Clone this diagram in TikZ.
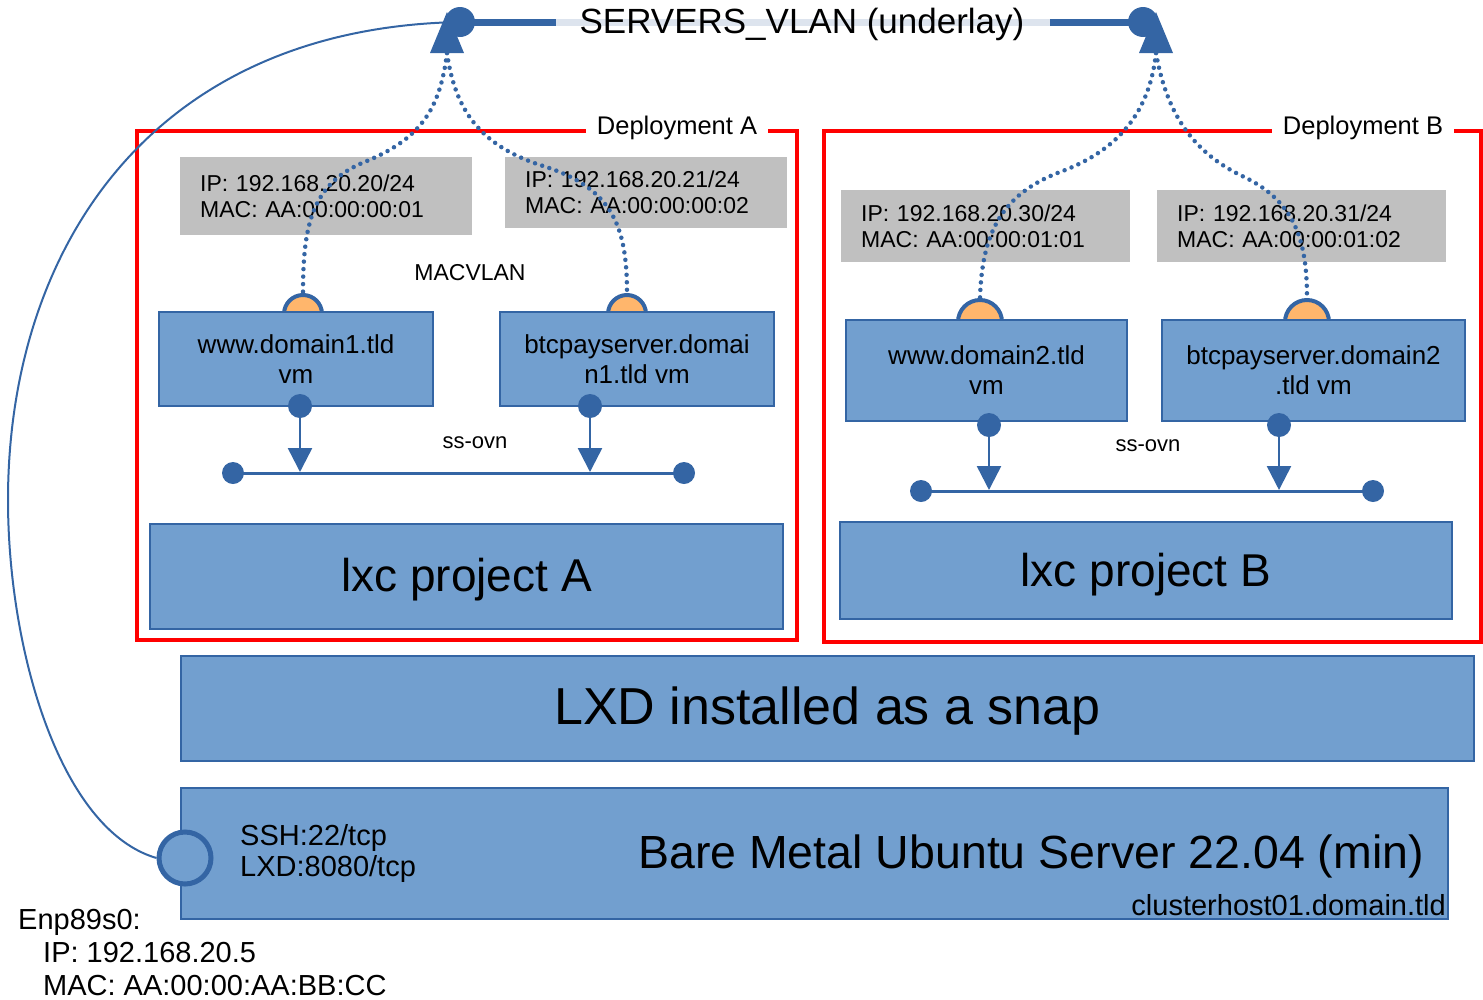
\documentclass[tikz,border=0pt]{standalone}
\usepackage{fontspec}
\setmainfont{Liberation Sans}
\usetikzlibrary{arrows.meta}
\definecolor{boxblue}{HTML}{729FCF}
\definecolor{edgeblue}{HTML}{3465A4}
\definecolor{ipgray}{HTML}{C0C0C0}
\definecolor{ifaceorange}{HTML}{FFB66C}
\definecolor{bandblue}{HTML}{DDE4EE}
\newcommand\fsz[2]{\fontsize{#1}{#2}\selectfont}
\tikzset{
  bluebox/.style={draw=edgeblue, fill=boxblue, line width=1.5pt, inner sep=0pt, align=center},
  ipbox/.style={fill=ipgray, inner sep=0pt, inner xsep=20pt, align=left, anchor=north west, font=\fsz{23}{26}},
  vmtext/.style={font=\fsz{26}{30}},
  redframe/.style={draw=red, line width=4pt},
  framelabel/.style={fill=white, inner xsep=11pt, inner ysep=2pt, font=\fsz{25.5}{28}},
  dotline/.style={edgeblue, line width=4.5pt, line cap=round, dash pattern=on 0pt off 7.5pt},
  busline/.style={edgeblue, line width=3pt},
  busdot/.style={circle, fill=edgeblue, inner sep=0pt, minimum size=22pt},
  portdot/.style={circle, fill=edgeblue, inner sep=0pt, minimum size=24pt},
  macport/.style={circle, draw=edgeblue, fill=ifaceorange, line width=4pt, inner sep=0pt, minimum size=38pt},
  downarrow/.style={edgeblue, line width=2.5pt, -{Triangle[width=24pt,length=24pt]}},
  small/.style={font=\fsz{22}{26}},
}
\begin{document}
\begin{tikzpicture}[x=1pt,y=-1pt]
\useasboundingbox (0,0) rectangle (1483,999);

% ---------- top VLAN bus ----------
\coordinate (vlanL) at (460,22);
\coordinate (vlanR) at (1143,22);
\draw[edgeblue, line width=7pt] (vlanL) -- (556,22);
\draw[bandblue, line width=7pt] (556,22) -- (1050,22);
\draw[edgeblue, line width=7pt] (1050,22) -- (vlanR);
\node[font=\fsz{35}{40}] (vlan) at (802,24) {SERVERS\_VLAN (underlay)};
\coordinate (tipA) at (447,53);
\coordinate (tipB) at (1156,53);
\fill[edgeblue] (447,12) -- (464,53) -- (430,53) -- cycle;
\fill[edgeblue] (1156,12) -- (1173,53) -- (1139,53) -- cycle;
\fill[edgeblue] (vlanL) circle (15);
\fill[edgeblue] (vlanR) circle (15);

% ---------- deployment frames ----------
\draw[redframe] (137,131) rectangle (797,640);
\node[framelabel] (depA) at (677,128) {Deployment A};
\draw[redframe] (824,131) rectangle (1481,642);
\node[framelabel] (depB) at (1363,128) {Deployment B};

% ---------- IP boxes ----------
\node[ipbox, minimum width=292pt, minimum height=78pt, text width=252pt] (ipA1) at (180,157) {IP: 192.168.20.20/24\\MAC: AA:00:00:00:01};
\node[ipbox, minimum width=282pt, minimum height=71pt, text width=242pt] (ipA2) at (505,157) {IP: 192.168.20.21/24\\MAC: AA:00:00:00:02};
\node[ipbox, minimum width=289pt, minimum height=72pt, text width=249pt] (ipB1) at (841,190) {IP: 192.168.20.30/24\\MAC: AA:00:00:01:01};
\node[ipbox, minimum width=289pt, minimum height=72pt, text width=249pt] (ipB2) at (1157,190) {IP: 192.168.20.31/24\\MAC: AA:00:00:01:02};

\node[font=\fsz{23}{26}] (macvlan) at (470,273) {MACVLAN};

% ---------- MACVLAN ports (drawn before vm boxes) ----------
\node[macport] (pA1) at (303,314) {};
\node[macport] (pA2) at (627,314) {};
\node[macport, minimum size=44pt] (pB1) at (980,322) {};
\node[macport, minimum size=44pt] (pB2) at (1307,322) {};

% ---------- dotted MACVLAN links ----------
\draw[dotline] (tipA) .. controls (440,110) and (420,140) .. (362,163) .. controls (312,185) and (303,225) .. (pA1.north);
\draw[dotline] (tipA) .. controls (455,110) and (480,145) .. (540,165) .. controls (612,187) and (627,225) .. (pA2.north);
\draw[dotline] (tipB) .. controls (1150,110) and (1120,150) .. (1060,172) .. controls (1000,195) and (982,235) .. (pB1.north);
\draw[dotline] (tipB) .. controls (1166,110) and (1190,150) .. (1240,175) .. controls (1295,200) and (1307,240) .. (pB2.north);

% ---------- VM boxes ----------
\node[bluebox, vmtext, minimum width=274pt, minimum height=94pt] (vmA1) at (296,359) {www.domain1.tld\\vm};
\node[bluebox, vmtext, minimum width=274pt, minimum height=94pt] (vmA2) at (637,359) {btcpayserver.domai\\n1.tld vm};
\node[bluebox, vmtext, minimum width=281pt, minimum height=101pt] (vmB1) at (986.5,370.5) {www.domain2.tld\\vm};
\node[bluebox, vmtext, minimum width=303pt, minimum height=101pt] (vmB2) at (1313.5,370.5) {btcpayserver.domain2\\.tld vm};

% ---------- ovn ports and buses ----------
\node[portdot] (oA1) at (300,406) {};
\node[portdot] (oA2) at (590,406) {};
\node[portdot] (oB1) at (989,425) {};
\node[portdot] (oB2) at (1279,425) {};

\node[busdot] (busA1) at (233,473) {};
\node[busdot] (busA2) at (684,473) {};
\draw[busline] (busA1.center) -- (busA2.center);
\coordinate (inA1) at (300,472);
\coordinate (inA2) at (590,472);
\draw[downarrow] (oA1.center) -- (inA1);
\draw[downarrow] (oA2.center) -- (inA2);
\node[small] (ovnA) at (475,443) {ss-ovn};

\node[busdot] (busB1) at (921,491) {};
\node[busdot] (busB2) at (1373,491) {};
\draw[busline] (busB1.center) -- (busB2.center);
\coordinate (inB1) at (989,490);
\coordinate (inB2) at (1279,490);
\draw[downarrow] (oB1.center) -- (inB1);
\draw[downarrow] (oB2.center) -- (inB2);
\node[small] (ovnB) at (1148,446) {ss-ovn};

% ---------- big layers ----------
\node[bluebox, minimum width=633pt, minimum height=105pt] (lxcA) at (466.5,576.5) {};
\node[font=\fsz{46}{52}] (lxcAtxt) at (466.5,580) {lxc project A};
\node[bluebox, minimum width=612pt, minimum height=97pt] (lxcB) at (1146,570.5) {};
\node[font=\fsz{46}{52}] (lxcBtxt) at (1146,575) {lxc project B};
\node[bluebox, minimum width=1293pt, minimum height=105pt] (lxd) at (827.5,708.5) {};
\node[font=\fsz{52}{58}] (lxdtxt) at (827.5,711.5) {LXD installed as a snap};
\node[bluebox, minimum width=1267pt, minimum height=131pt] (metal) at (814.5,853.5) {};
\node[font=\fsz{46.5}{52}] (metaltxt) at (1031,856) {Bare Metal Ubuntu Server 22.04 (min)};
\node[font=\fsz{29}{33}, anchor=base west, inner sep=0pt] (ssh) at (240,845) {SSH:22/tcp};
\node[font=\fsz{29}{33}, anchor=base west, inner sep=0pt] (lxdport) at (240,876) {LXD:8080/tcp};
\node[font=\fsz{29}{32}, anchor=base east, inner sep=0pt] (host) at (1446,915) {clusterhost01.domain.tld};

% ---------- host interface ----------
\node[circle, draw=edgeblue, fill=boxblue, line width=5pt, minimum size=52pt, inner sep=0pt] (nic) at (185,858) {};
\draw[edgeblue, line width=2pt] (nic.west) .. controls (60,830) and (8,650) .. (8,500) .. controls (8,250) and (150,28) .. (vlanL);

\node[font=\fsz{29}{33}, anchor=base west, inner sep=0pt] (nicname) at (18,929) {Enp89s0:};
\node[font=\fsz{29}{33}, anchor=base west, inner sep=0pt] (nicip) at (43,962) {IP: 192.168.20.5};
\node[font=\fsz{29}{33}, anchor=base west, inner sep=0pt] (nicmac) at (43,995) {MAC: AA:00:00:AA:BB:CC};
\end{tikzpicture}
\end{document}
